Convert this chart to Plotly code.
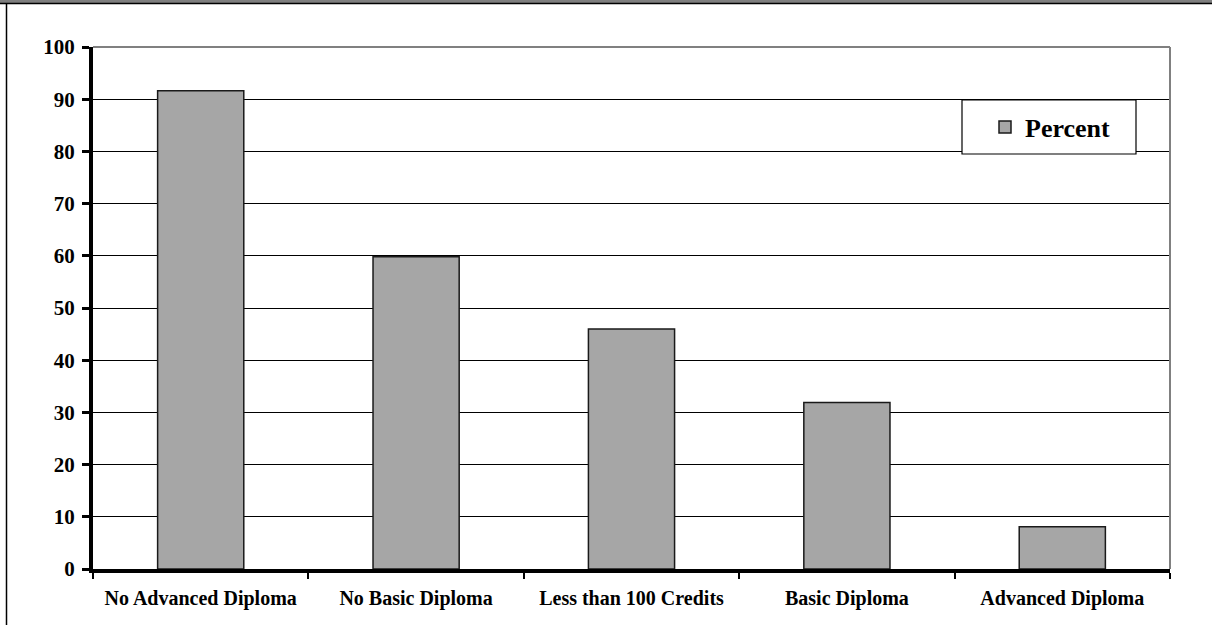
import plotly.graph_objects as go

categories = ["No Advanced Diploma", "No Basic Diploma", "Less than 100 Credits",
              "Basic Diploma", "Advanced Diploma"]
percent = [91.6, 59.8, 46.0, 31.9, 8.1]
series_name = "Percent"
y_ticks = list(range(0, 101, 10))

W, H = 1212, 625
ML, MR, MT, MB = 93, 42, 47, 56
PW, PH = W - ML - MR, H - MT - MB

def px_x(p):
    return (p - ML) / PW

def px_y(p):
    return (H - MB - p) / PH

FONT = "'Liberation Serif', 'Times New Roman', serif"

fig = go.Figure()
fig.add_trace(go.Bar(
    x=categories, y=percent, name=series_name,
    marker=dict(color="#A6A6A6", line=dict(color="#1a1a1a", width=1.5)),
    showlegend=True,
))

shapes = [
    # outer frame: grey band, black top line, black left line
    dict(type="rect", xref="paper", yref="paper", x0=px_x(0), x1=px_x(W),
         y0=px_y(3), y1=px_y(0), fillcolor="#7f7f7f", line=dict(width=0), layer="above"),
    dict(type="line", xref="paper", yref="paper", x0=px_x(0), x1=px_x(W),
         y0=px_y(3.5), y1=px_y(3.5), line=dict(color="black", width=1.5), layer="above"),
    dict(type="line", xref="paper", yref="paper", x0=px_x(6.5), x1=px_x(6.5),
         y0=px_y(H), y1=px_y(3.5), line=dict(color="black", width=1.5), layer="above"),
    # plot area border top and right (grey)
    dict(type="line", xref="paper", yref="paper", x0=0, x1=1, y0=1, y1=1,
         line=dict(color="#808080", width=2), layer="above"),
    dict(type="line", xref="paper", yref="paper", x0=1, x1=1, y0=0, y1=1,
         line=dict(color="#808080", width=2), layer="above"),
    # legend box
    dict(type="rect", xref="paper", yref="paper", x0=px_x(962), x1=px_x(1136),
         y0=px_y(154), y1=px_y(100), fillcolor="white",
         line=dict(color="black", width=1.2), layer="above"),
]

fig.update_layout(
    width=W, height=H,
    margin=dict(l=ML, r=MR, t=MT, b=MB, pad=0),
    paper_bgcolor="white", plot_bgcolor="white",
    bargap=0.6,
    shapes=shapes,
    showlegend=True,
    legend=dict(
        x=px_x(985), y=px_y(127), xanchor="left", yanchor="middle",
        bgcolor="rgba(0,0,0,0)", borderwidth=0,
        font=dict(family=FONT, size=26, color="black", weight="bold"),
        itemwidth=30,
    ),
    xaxis=dict(
        showline=True, linecolor="black", linewidth=4,
        ticks="outside", tickson="boundaries", ticklen=6, tickwidth=2, tickcolor="black",
        showgrid=False,
        tickfont=dict(family=FONT, size=20, color="black", weight="bold"),
        ticklabelstandoff=8,
    ),
    yaxis=dict(
        range=[0, 100], tickvals=y_ticks, ticktext=[str(v) for v in y_ticks],
        showline=True, linecolor="black", linewidth=4,
        ticks="outside", ticklen=7, tickwidth=3, tickcolor="black",
        showgrid=True, gridcolor="black", gridwidth=1,
        zeroline=False,
        tickfont=dict(family=FONT, size=21, color="black", weight="bold"),
        ticklabelstandoff=3,
    ),
)

fig.write_html("out.html")
